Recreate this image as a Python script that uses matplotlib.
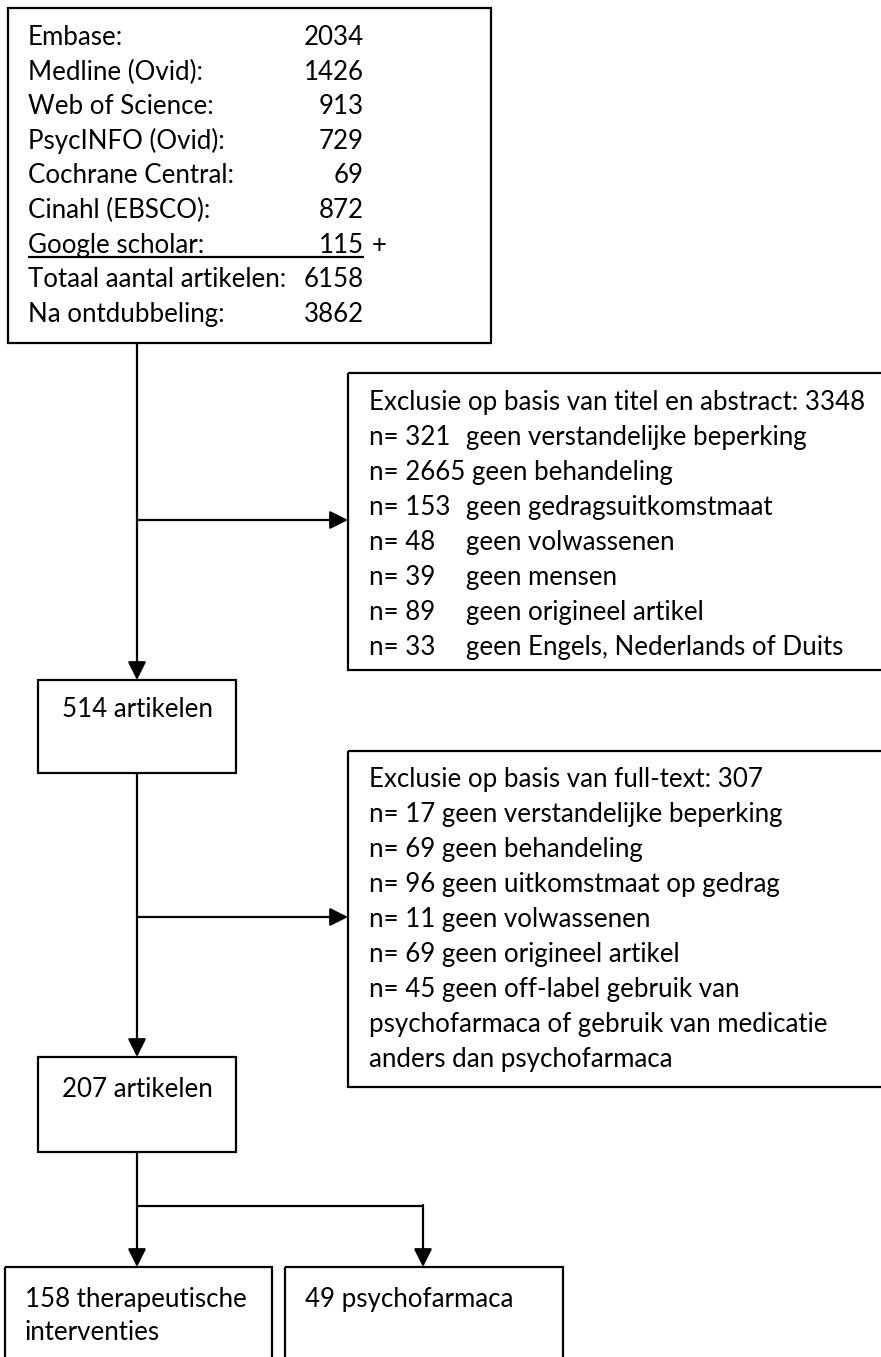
import matplotlib.pyplot as plt
from matplotlib.patches import Rectangle

plt.rcParams['font.family'] = ['Lato', 'DejaVu Sans']

# search results per database
db_names = ["Embase:", "Medline (Ovid):", "Web of Science:", "PsycINFO (Ovid):",
            "Cochrane Central:", "Cinahl (EBSCO):", "Google scholar:",
            "Totaal aantal artikelen:", "Na ontdubbeling:"]
db_counts = ["2034", "1426", "913", "729", "69", "872", "115", "6158", "3862"]

# first exclusion step (title / abstract)
excl1_title = "Exclusie op basis van titel en abstract: 3348"
excl1_n = ["321", "2665", "153", "48", "39", "89", "33"]
excl1_reason = ["geen verstandelijke beperking", "geen behandeling",
                "geen gedragsuitkomstmaat", "geen volwassenen", "geen mensen",
                "geen origineel artikel", "geen Engels, Nederlands of Duits"]

# second exclusion step (full text)
excl2_title = "Exclusie op basis van full-text: 307"
excl2_n = ["17", "69", "96", "11", "69", "45"]
excl2_reason = ["geen verstandelijke beperking", "geen behandeling",
                "geen uitkomstmaat op gedrag", "geen volwassenen",
                "geen origineel artikel", "geen off-label gebruik van"]
excl2_extra = ["psychofarmaca of gebruik van medicatie", "anders dan psychofarmaca"]

after_screen = "514 artikelen"
after_fulltext = "207 artikelen"
final_left = ["158 therapeutische", "interventies"]
final_right = ["49 psychofarmaca"]

W, H = 881, 1357
fig = plt.figure(figsize=(W / 100, H / 100), dpi=100)
ax = fig.add_axes([0, 0, 1, 1])
ax.set_xlim(0, W)
ax.set_ylim(H, 0)
ax.axis('off')

fs = 18.6
lw = 1.6
step = 34.6


def box(x0, y0, x1, y1):
    ax.add_patch(Rectangle((x0, y0), x1 - x0, y1 - y0, fill=False,
                           edgecolor='black', lw=lw, zorder=2))


def line(xs, ys):
    ax.plot(xs, ys, color='black', lw=lw, solid_capstyle='butt', zorder=1)


def arrow(x0, y0, x1, y1):
    ax.annotate("", xy=(x1, y1), xytext=(x0, y0),
                arrowprops=dict(arrowstyle='-|>,head_length=1.0,head_width=0.5',
                                mutation_scale=11, lw=lw, color='black',
                                shrinkA=0, shrinkB=0))


def txt(x, y, s, ha='left'):
    ax.text(x, y, s, fontsize=fs, ha=ha, va='baseline', color='black')


# top box
box(8, 8, 491, 343)
for i, (name, cnt) in enumerate(zip(db_names, db_counts)):
    yb = 45 + i * step
    txt(28, yb, name)
    txt(364, yb, cnt, ha='right')
txt(372, 45 + 6 * step, "+")
line([28, 364], [257, 257])

# main vertical flow
line([137, 137], [343, 520])
arrow(137, 520, 137, 680)
arrow(137, 520, 348, 520)

# exclusion box 1
box(348, 373, 900, 670)
txt(369, 410, excl1_title)
for i, (n, r) in enumerate(zip(excl1_n, excl1_reason)):
    yb = 410 + (i + 1) * 35
    if len(n) > 3:
        # four-digit count runs straight into its reason
        txt(369, yb, "n= " + n + " " + r)
    else:
        txt(369, yb, "n= " + n)
        txt(466, yb, r)

# 514 box
box(38, 680, 236, 773)
txt(137, 717, after_screen, ha='center')

line([137, 137], [773, 917])
arrow(137, 917, 137, 1057)
arrow(137, 917, 348, 917)

# exclusion box 2
box(348, 751, 900, 1087)
txt(369, 787, excl2_title)
for i, (n, r) in enumerate(zip(excl2_n, excl2_reason)):
    txt(369, 787 + (i + 1) * 35, "n= " + n + " " + r)
for j, s in enumerate(excl2_extra):
    txt(369, 787 + (len(excl2_n) + 1 + j) * 35, s)

# 207 box
box(38, 1057, 236, 1152)
txt(137, 1097, after_fulltext, ha='center')

# split
line([137, 137], [1152, 1206])
line([137, 423], [1206, 1206])
arrow(137, 1206, 137, 1267)
arrow(423, 1205, 423, 1267)

box(5, 1267, 272, 1400)
box(285, 1267, 563, 1400)
for j, s in enumerate(final_left):
    txt(25, 1307 + j * 33, s)
for j, s in enumerate(final_right):
    txt(305, 1307 + j * 33, s)

fig.savefig("out.png", dpi=100)
